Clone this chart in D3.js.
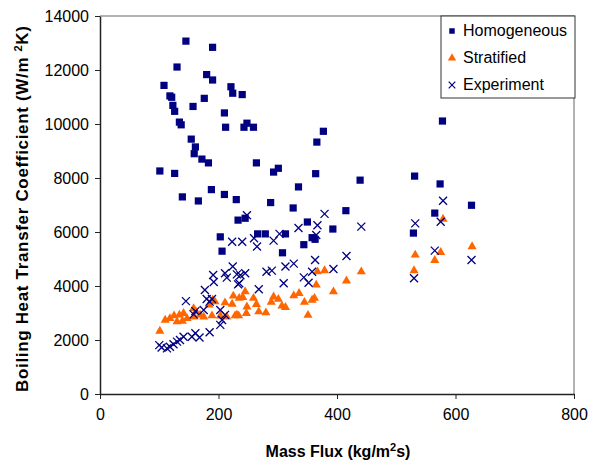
<!DOCTYPE html>
<html>
<head>
<meta charset="utf-8">
<script src="https://cdn.jsdelivr.net/npm/d3@7"></script>
<style>
    body { margin: 0; background: #fff; }
    svg text { font-family: "Liberation Sans", Arial, sans-serif; }
</style>
</head>
<body>
<div id="chart"></div>
<script>
// mass flux (kg/m2s), heat transfer coefficient (W/m2K)
const homogeneous = [
    [101, 8260], [108, 11430], [118, 11040], [121, 10990], [123, 10690], [126, 10470],
    [126, 8170], [130, 12110], [134, 10070], [137, 9970], [139, 7300], [145, 13070],
    [154, 9440], [157, 10650], [161, 9150], [159, 8900], [166, 7150], [172, 8700],
    [176, 10950], [180, 11830], [183, 8560], [188, 7570], [190, 12840], [190, 11630],
    [203, 5820], [206, 5290], [210, 10410], [212, 9880], [210, 7390], [221, 11380],
    [224, 11140], [230, 7200], [233, 6440], [245, 6510], [240, 11090], [248, 10030],
    [243, 9880], [259, 9880], [264, 8560], [266, 5930], [279, 5930], [288, 7090],
    [293, 8220], [301, 8360], [308, 5230], [313, 5930], [326, 6890], [335, 7670],
    [344, 5530], [350, 6370], [358, 5790], [363, 5730], [364, 8160], [366, 9330],
    [377, 9730], [393, 6110], [415, 6790], [439, 7920], [529, 5960], [531, 8070],
    [565, 6700], [574, 7780], [578, 10110], [627, 6990]
];

const stratified = [
    [101, 2330], [110, 2740], [118, 2800], [125, 2900], [134, 2930], [130, 2680],
    [141, 2990], [147, 2800], [139, 2700], [158, 3170], [159, 2860], [162, 3050],
    [169, 2930], [175, 2860], [184, 3300], [190, 3480], [189, 2900], [194, 3420],
    [203, 2890], [211, 3380], [214, 2860], [223, 3330], [225, 3630], [231, 2930],
    [235, 3550], [228, 2900], [234, 2900], [241, 3580], [245, 3790], [248, 3230],
    [247, 2990], [259, 3550], [264, 3320], [268, 3050], [280, 3010], [289, 3400],
    [293, 3600], [301, 3510], [307, 3260], [313, 3210], [327, 3640], [336, 3730],
    [345, 3400], [351, 2920], [358, 3480], [362, 3550], [365, 4040], [367, 4530],
    [379, 4570], [394, 3790], [416, 4190], [441, 4530], [530, 4570], [532, 5150],
    [565, 4950], [575, 5250], [579, 6480], [628, 5460]
];

const experiment = [
    [100, 1810], [104, 1720], [113, 1690], [118, 1750], [124, 1840], [130, 1940],
    [135, 2000], [141, 2120], [155, 2120], [161, 2250], [168, 2090], [185, 2290],
    [145, 3440], [158, 2950], [161, 3070], [175, 3110], [180, 3520], [185, 3420],
    [189, 3520], [177, 3850], [203, 3110], [211, 2930], [206, 2740], [203, 2560],
    [191, 4410], [192, 4150], [211, 4470], [214, 4310], [224, 4720], [223, 5640],
    [240, 5640], [231, 4430], [233, 4060], [237, 4400], [245, 4470], [235, 4100],
    [248, 6620], [260, 5770], [265, 5460], [268, 3880], [281, 4530], [290, 4570],
    [293, 5680], [303, 5930], [310, 4100], [313, 4720], [327, 4830], [335, 6150],
    [344, 4320], [352, 4120], [358, 4530], [363, 4960], [365, 5890], [367, 6250],
    [379, 6670], [394, 4630], [416, 5110], [441, 6200], [530, 4290], [532, 6320],
    [565, 5310], [575, 6380], [579, 7160], [627, 4960]
];

const xTicks = [0, 200, 400, 600, 800];
const yTicks = [0, 2000, 4000, 6000, 8000, 10000, 12000, 14000];
const seriesNames = ["Homogeneous", "Stratified", "Experiment"];

const width = 591,
    height = 463,
    margin = {top: 16, right: 17, bottom: 69, left: 100},
    navy = "#000080",
    orange = "#ff6600";

const svg = d3.select("#chart").append("svg")
    .attr("width", width)
    .attr("height", height);

const x = d3.scaleLinear()
    .domain([0, 800])
    .range([margin.left, width - margin.right]);
const y = d3.scaleLinear()
    .domain([0, 14000])
    .range([height - margin.bottom, margin.top]);

// frame: grey top/right, dark axes left/bottom
svg.append("path")
    .attr("d", `M${x(0)},${y(14000)}H${x(800)}V${y(0)}`)
    .attr("fill", "none")
    .attr("stroke", "#999")
    .attr("stroke-width", 1.5);

const yAxis = svg.append("g")
    .attr("transform", `translate(${x(0)},0)`)
    .call(d3.axisLeft(y).tickValues(yTicks).tickFormat(d3.format("d"))
        .tickSize(5).tickSizeOuter(0).tickPadding(6));
const xAxis = svg.append("g")
    .attr("transform", `translate(0,${y(0)})`)
    .call(d3.axisBottom(x).tickValues(xTicks).tickFormat(d3.format("d"))
        .tickSize(5).tickSizeOuter(0).tickPadding(10));

[xAxis, yAxis].forEach(g => {
    g.select(".domain").attr("stroke", "#222").attr("stroke-width", 1.5);
    g.selectAll(".tick line").attr("stroke", "#222");
    g.selectAll(".tick text")
        .attr("fill", "#000")
        .style("font-size", "16px")
        .style("font-family", "'Liberation Sans', Arial, sans-serif");
});

// markers
const squarePath = d3.symbol(d3.symbolSquare, 52)(),
    trianglePath = d3.symbol(d3.symbolTriangle, 36)(),
    crossPath = "M-4,-4L4,4M-4,4L4,-4";

const plot = svg.append("g");

plot.append("g").selectAll("path")
    .data(homogeneous)
    .join("path")
    .attr("transform", d => `translate(${x(d[0])},${y(d[1])})`)
    .attr("d", squarePath)
    .attr("fill", navy);

plot.append("g").selectAll("path")
    .data(stratified)
    .join("path")
    .attr("transform", d => `translate(${x(d[0])},${y(d[1])})`)
    .attr("d", trianglePath)
    .attr("fill", orange);

plot.append("g").selectAll("path")
    .data(experiment)
    .join("path")
    .attr("transform", d => `translate(${x(d[0])},${y(d[1])})`)
    .attr("d", crossPath)
    .attr("fill", "none")
    .attr("stroke", navy)
    .attr("stroke-width", 1.3);

// legend
const legend = svg.append("g").attr("transform", "translate(441,16)");
legend.append("rect")
    .attr("width", 134)
    .attr("height", 82)
    .attr("fill", "#fff")
    .attr("stroke", "#333")
    .attr("stroke-width", 1);

const markers = [
    {d: d3.symbol(d3.symbolSquare, 30)(), fill: navy, stroke: "none"},
    {d: d3.symbol(d3.symbolTriangle, 30)(), fill: orange, stroke: "none"},
    {d: "M-3.3,-3.3L3.3,3.3M-3.3,3.3L3.3,-3.3", fill: "none", stroke: navy}
];

seriesNames.forEach((name, i) => {
    const row = legend.append("g").attr("transform", `translate(0,${14 + i * 27})`);
    row.append("path")
        .attr("transform", "translate(11,1)")
        .attr("d", markers[i].d)
        .attr("fill", markers[i].fill)
        .attr("stroke", markers[i].stroke)
        .attr("stroke-width", 1.2);
    row.append("text")
        .attr("x", 22)
        .attr("y", 6)
        .style("font-size", "16px")
        .text(name);
});

// axis titles
svg.append("text")
    .attr("x", 338)
    .attr("y", 457)
    .attr("text-anchor", "middle")
    .style("font-size", "16px")
    .style("font-weight", "bold")
    .html('Mass Flux (kg/m<tspan dy="-6" font-size="11">2</tspan><tspan dy="6">s)</tspan>');

svg.append("text")
    .attr("transform", "translate(28,209) rotate(-90)")
    .attr("text-anchor", "middle")
    .attr("textLength", 366)
    .attr("lengthAdjust", "spacing")
    .style("font-size", "17px")
    .style("font-weight", "bold")
    .html('Boiling Heat Transfer Coefficient (W/m  <tspan dy="-6" font-size="11">2</tspan><tspan dy="6">K)</tspan>');
</script>
</body>
</html>
